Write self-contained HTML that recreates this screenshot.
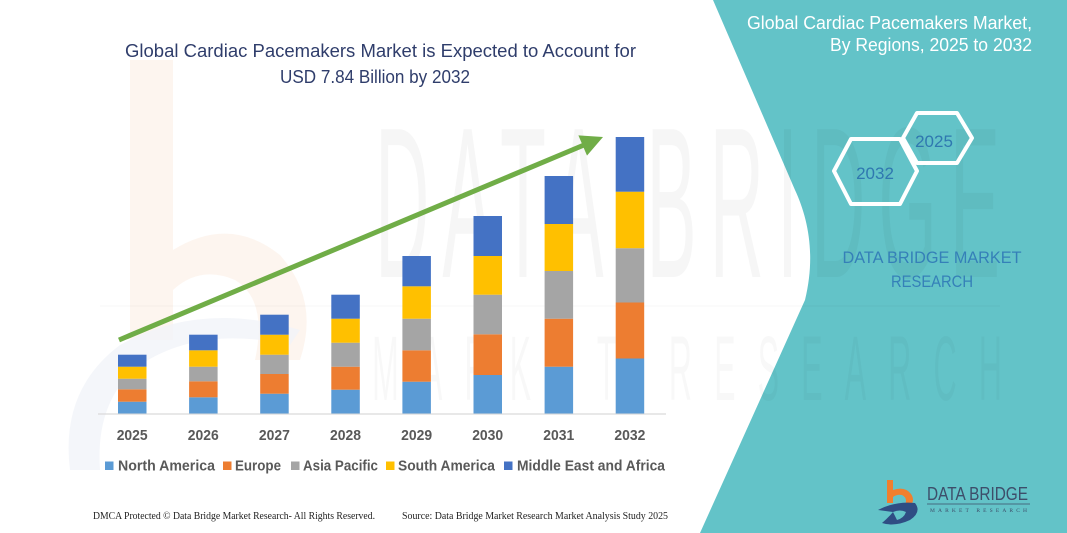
<!DOCTYPE html>
<html><head><meta charset="utf-8">
<style>
html,body{margin:0;padding:0;background:#fff;}
svg{display:block;}
</style></head>
<body>
<svg width="1067" height="533" viewBox="0 0 1067 533" xmlns="http://www.w3.org/2000/svg">
<rect x="0" y="0" width="1067" height="533" fill="#ffffff"/>
<!-- faint left logo watermark -->
<path d="M130,60 L173,60 L173,250 Q230,215 280,255 Q320,300 300,360 L255,360 Q268,300 235,280 Q200,265 173,290 L173,340 L130,340 Z" fill="#fdf2eb" opacity="0.8"/>
<path d="M70,470 Q60,390 120,345 Q200,300 300,330 L290,345 Q200,325 140,365 Q95,400 100,470 Z" fill="#f1f4f9" opacity="0.8"/>
<!-- teal panel -->
<path d="M713,0 L795,190 C808,218 816,255 805,300 L700,533 L1067,533 L1067,0 Z" fill="#63c3c8"/>
<!-- watermark text -->
<g transform="translate(375,277) scale(0.35,1)">
<text x="0" y="0" font-family="Liberation Sans, sans-serif" font-size="215" fill="#000" opacity="0.03" textLength="1786" lengthAdjust="spacing">DATA BRIDGE</text>
</g>
<rect x="100" y="305" width="900" height="2" fill="#000" opacity="0.015"/>
<g transform="translate(372,400) scale(0.35,1)">
<text x="0" y="0" font-family="Liberation Sans, sans-serif" font-size="92" fill="#000" opacity="0.025" textLength="1800" lengthAdjust="spacing">MARKET RESEARCH</text>
</g>

<!-- title -->
<text x="125" y="57" font-family="Liberation Sans, sans-serif" font-size="18" fill="#2f3d6b" textLength="511" lengthAdjust="spacingAndGlyphs">Global Cardiac Pacemakers Market is Expected to Account for</text>
<text x="280" y="83" font-family="Liberation Sans, sans-serif" font-size="18" fill="#2f3d6b" textLength="190" lengthAdjust="spacingAndGlyphs">USD 7.84 Billion by 2032</text>

<!-- axis -->
<line x1="98" y1="414" x2="666" y2="414" stroke="#d9d9d9" stroke-width="1.2"/>

<g id="bars">
<!-- 2025 -->
<rect x="118" y="401.7" width="28.5" height="11.8" fill="#5b9bd5"/>
<rect x="118" y="389.3" width="28.5" height="12.4" fill="#ed7d31"/>
<rect x="118" y="378.7" width="28.5" height="10.6" fill="#a5a5a5"/>
<rect x="118" y="366.7" width="28.5" height="12" fill="#ffc000"/>
<rect x="118" y="354.7" width="28.5" height="12" fill="#4472c4"/>
<!-- 2026 -->
<rect x="189.1" y="397.3" width="28.5" height="16.2" fill="#5b9bd5"/>
<rect x="189.1" y="381.3" width="28.5" height="16" fill="#ed7d31"/>
<rect x="189.1" y="366.7" width="28.5" height="14.6" fill="#a5a5a5"/>
<rect x="189.1" y="350.3" width="28.5" height="16.4" fill="#ffc000"/>
<rect x="189.1" y="334.7" width="28.5" height="15.6" fill="#4472c4"/>
<!-- 2027 -->
<rect x="260.2" y="393.7" width="28.5" height="19.8" fill="#5b9bd5"/>
<rect x="260.2" y="374" width="28.5" height="19.7" fill="#ed7d31"/>
<rect x="260.2" y="354.7" width="28.5" height="19.3" fill="#a5a5a5"/>
<rect x="260.2" y="334.7" width="28.5" height="20" fill="#ffc000"/>
<rect x="260.2" y="314.7" width="28.5" height="20" fill="#4472c4"/>
<!-- 2028 -->
<rect x="331.3" y="389.7" width="28.5" height="23.8" fill="#5b9bd5"/>
<rect x="331.3" y="366.7" width="28.5" height="23" fill="#ed7d31"/>
<rect x="331.3" y="342.7" width="28.5" height="24" fill="#a5a5a5"/>
<rect x="331.3" y="318.7" width="28.5" height="24" fill="#ffc000"/>
<rect x="331.3" y="294.7" width="28.5" height="24" fill="#4472c4"/>
<!-- 2029 -->
<rect x="402.4" y="381.7" width="28.5" height="31.8" fill="#5b9bd5"/>
<rect x="402.4" y="350.3" width="28.5" height="31.4" fill="#ed7d31"/>
<rect x="402.4" y="318.7" width="28.5" height="31.6" fill="#a5a5a5"/>
<rect x="402.4" y="286.3" width="28.5" height="32.4" fill="#ffc000"/>
<rect x="402.4" y="256" width="28.5" height="30.3" fill="#4472c4"/>
<!-- 2030 -->
<rect x="473.5" y="375" width="28.5" height="38.5" fill="#5b9bd5"/>
<rect x="473.5" y="334.3" width="28.5" height="40.7" fill="#ed7d31"/>
<rect x="473.5" y="294.7" width="28.5" height="39.6" fill="#a5a5a5"/>
<rect x="473.5" y="256" width="28.5" height="38.7" fill="#ffc000"/>
<rect x="473.5" y="216" width="28.5" height="40" fill="#4472c4"/>
<!-- 2031 -->
<rect x="544.6" y="366.7" width="28.5" height="46.8" fill="#5b9bd5"/>
<rect x="544.6" y="318.7" width="28.5" height="48" fill="#ed7d31"/>
<rect x="544.6" y="271" width="28.5" height="47.7" fill="#a5a5a5"/>
<rect x="544.6" y="224" width="28.5" height="47" fill="#ffc000"/>
<rect x="544.6" y="176" width="28.5" height="48" fill="#4472c4"/>
<!-- 2032 -->
<rect x="615.7" y="358.5" width="28.5" height="55" fill="#5b9bd5"/>
<rect x="615.7" y="302.5" width="28.5" height="56" fill="#ed7d31"/>
<rect x="615.7" y="248.2" width="28.5" height="54.3" fill="#a5a5a5"/>
<rect x="615.7" y="191.7" width="28.5" height="56.5" fill="#ffc000"/>
<rect x="615.7" y="137" width="28.5" height="54.7" fill="#4472c4"/>
</g>

<!-- arrow -->
<line x1="119" y1="340" x2="584" y2="145" stroke="#70ad47" stroke-width="5"/>
<polygon points="603,137 578.4,135.4 587,155.6" fill="#70ad47"/>

<!-- year labels -->
<g font-family="Liberation Sans, sans-serif" font-size="15" font-weight="bold" fill="#595959">
<text x="116.7" y="440" textLength="31" lengthAdjust="spacingAndGlyphs">2025</text>
<text x="187.8" y="440" textLength="31" lengthAdjust="spacingAndGlyphs">2026</text>
<text x="258.9" y="440" textLength="31" lengthAdjust="spacingAndGlyphs">2027</text>
<text x="330" y="440" textLength="31" lengthAdjust="spacingAndGlyphs">2028</text>
<text x="401.1" y="440" textLength="31" lengthAdjust="spacingAndGlyphs">2029</text>
<text x="472.2" y="440" textLength="31" lengthAdjust="spacingAndGlyphs">2030</text>
<text x="543.3" y="440" textLength="31" lengthAdjust="spacingAndGlyphs">2031</text>
<text x="614.4" y="440" textLength="31" lengthAdjust="spacingAndGlyphs">2032</text>
</g>

<!-- legend -->
<rect x="105" y="461.5" width="8.5" height="8.5" fill="#5b9bd5"/>
<rect x="223" y="461.5" width="8.5" height="8.5" fill="#ed7d31"/>
<rect x="291" y="461.5" width="8.5" height="8.5" fill="#a5a5a5"/>
<rect x="386" y="461.5" width="8.5" height="8.5" fill="#ffc000"/>
<rect x="504" y="461.5" width="8.5" height="8.5" fill="#4472c4"/>
<g font-family="Liberation Sans, sans-serif" font-size="14.5" font-weight="bold" fill="#595959">
<text x="118" y="470.5" textLength="97" lengthAdjust="spacingAndGlyphs">North America</text>
<text x="235" y="470.5" textLength="46" lengthAdjust="spacingAndGlyphs">Europe</text>
<text x="303" y="470.5" textLength="75" lengthAdjust="spacingAndGlyphs">Asia Pacific</text>
<text x="398" y="470.5" textLength="97" lengthAdjust="spacingAndGlyphs">South America</text>
<text x="517" y="470.5" textLength="148" lengthAdjust="spacingAndGlyphs">Middle East and Africa</text>
</g>

<!-- footer -->
<text x="93" y="519" font-family="Liberation Serif, serif" font-size="10" fill="#222" textLength="282" lengthAdjust="spacingAndGlyphs">DMCA Protected © Data Bridge Market Research-  All Rights Reserved.</text>
<text x="402" y="519" font-family="Liberation Serif, serif" font-size="10" fill="#222" textLength="266" lengthAdjust="spacingAndGlyphs">Source: Data Bridge Market Research  Market Analysis Study 2025</text>

<!-- right panel title -->
<text x="1032" y="29" text-anchor="end" font-family="Liberation Sans, sans-serif" font-size="18" fill="#ffffff" textLength="285" lengthAdjust="spacingAndGlyphs">Global Cardiac Pacemakers Market,</text>
<text x="1032" y="51" text-anchor="end" font-family="Liberation Sans, sans-serif" font-size="18" fill="#ffffff" textLength="202" lengthAdjust="spacingAndGlyphs">By Regions, 2025 to 2032</text>

<!-- hexagons -->
<polygon points="903,138 917,113 957,113 972,138 957,163 917,163" fill="none" stroke="#ffffff" stroke-width="4" stroke-linejoin="round"/>
<polygon points="834,171 851,139 900,139 917,171 900,204 851,204" fill="none" stroke="#ffffff" stroke-width="4" stroke-linejoin="round"/>
<text x="934" y="147" text-anchor="middle" font-family="Liberation Sans, sans-serif" font-size="17" fill="#2f78b0">2025</text>
<text x="875" y="179" text-anchor="middle" font-family="Liberation Sans, sans-serif" font-size="17" fill="#2f78b0">2032</text>

<text x="932" y="263" text-anchor="middle" font-family="Liberation Sans, sans-serif" font-size="17" fill="#3580b8" textLength="179" lengthAdjust="spacingAndGlyphs">DATA BRIDGE MARKET</text>
<text x="932" y="287" text-anchor="middle" font-family="Liberation Sans, sans-serif" font-size="17" fill="#3580b8" textLength="82" lengthAdjust="spacingAndGlyphs">RESEARCH</text>

<!-- logo -->
<path d="M887,480 L893,480 L893,490 Q905,486 911,494 Q915,500 911,505 L905,505 Q908,498 902,495 Q897,494 893,497 L893,503 L887,503 Z" fill="#f07f2e"/>
<path d="M878,510 Q895,501 915,503 Q922,512 910,520 Q895,527 882,523 Q888,518 893,512 Z" fill="#2f4d83"/>
<path d="M893,512 Q900,509 906,512 Q904,518 897,520 Z" fill="#63c3c8"/>
<text x="927" y="500" font-family="Liberation Sans, sans-serif" font-size="18" fill="#3d4e6a" textLength="101" lengthAdjust="spacingAndGlyphs">DATA BRIDGE</text>
<line x1="927" y1="504" x2="1030" y2="504" stroke="#3d4e6a" stroke-width="0.8"/>
<text x="930" y="512" font-family="Liberation Serif, serif" font-size="5.5" fill="#3d4e6a" textLength="97" lengthAdjust="spacing">MARKET   RESEARCH</text>
</svg>
</body></html>
